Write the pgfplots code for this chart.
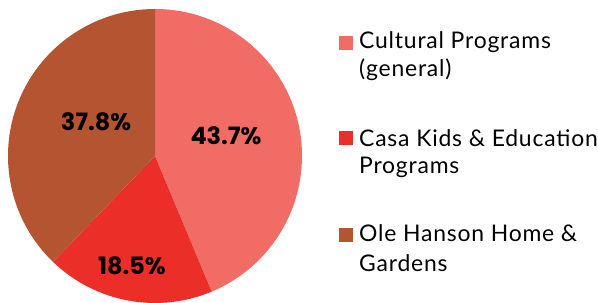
\documentclass[border=0pt]{standalone}
\usepackage{pgfplots}
\usepackage{pgfplotstable}
\pgfplotsset{compat=1.18}
\usepackage{fontspec}
\setmainfont{Lato}[LetterSpace=3.5]
\newfontfamily\labfont{Poppins}
\definecolor{cA}{RGB}{242,108,102}
\definecolor{cB}{RGB}{236,46,40}
\definecolor{cC}{RGB}{180,84,48}
\pgfplotstableread{
share lx ly
43.7 226 167
18.5 132 37
37.8 96 181
}\piedata
\begin{document}
\begin{tikzpicture}
\begin{axis}[
  width=598bp, height=303bp, scale only axis,
  xmin=0, xmax=598, ymin=0, ymax=303,
  hide axis, clip=false,
  /pgf/number format/assume math mode=true,
]
\coordinate (SW) at (axis cs:0,0);
\coordinate (NE) at (axis cs:598,303);
\pgfplotstablegetelem{0}{share}\of\piedata \let\sA\pgfplotsretval
\pgfplotstablegetelem{1}{share}\of\piedata \let\sB\pgfplotsretval
\pgfplotstablegetelem{2}{share}\of\piedata \let\sC\pgfplotsretval
\pgfmathsetmacro{\aA}{90}
\pgfmathsetmacro{\aB}{90-3.6*\sA}
\pgfmathsetmacro{\aC}{\aB-3.6*\sB}
\pgfmathsetmacro{\aD}{\aC-3.6*\sC}
\def\cx{155}\def\cy{147}\def\R{147}
\fill[cA] (axis cs:\cx,\cy) -- (axis cs:{\cx+\R*cos(\aA)},{\cy+\R*sin(\aA)}) arc[start angle=\aA, end angle=\aB, radius=\R] -- cycle;
\fill[cB] (axis cs:\cx,\cy) -- (axis cs:{\cx+\R*cos(\aB)},{\cy+\R*sin(\aB)}) arc[start angle=\aB, end angle=\aC, radius=\R] -- cycle;
\fill[cC] (axis cs:\cx,\cy) -- (axis cs:{\cx+\R*cos(\aC)},{\cy+\R*sin(\aC)}) arc[start angle=\aC, end angle=\aD, radius=\R] -- cycle;
\addplot[only marks, mark=none, nodes near coords={\labfont\bfseries\fontsize{24}{26}\selectfont\pgfmathprintnumber[fixed,precision=1,fixed zerofill]{\pgfplotspointmeta}\%},
  nodes near coords align=center, point meta=explicit]
  table[x=lx, y=ly, meta=share] {\piedata};
% legend
\fill[cA] (axis cs:339,253) rectangle (axis cs:353,267);
\fill[cB] (axis cs:339,158) rectangle (axis cs:353,172);
\fill[cC] (axis cs:339,61) rectangle (axis cs:353,75);
\tikzset{lg/.style={anchor=base west, inner sep=0pt, font=\fontsize{23}{26}\selectfont}}
\node[lg] at (axis cs:359,254) {Cultural Programs};
\node[lg] at (axis cs:359,226) {(general)};
\node[lg] at (axis cs:359,156) {Casa Kids \& Education};
\node[lg] at (axis cs:359,129) {Programs};
\node[lg] at (axis cs:359,61) {Ole Hanson Home \&};
\node[lg] at (axis cs:359,32) {Gardens};
\end{axis}
\pgfresetboundingbox
\path (SW) rectangle (NE);
\end{tikzpicture}
\end{document}
